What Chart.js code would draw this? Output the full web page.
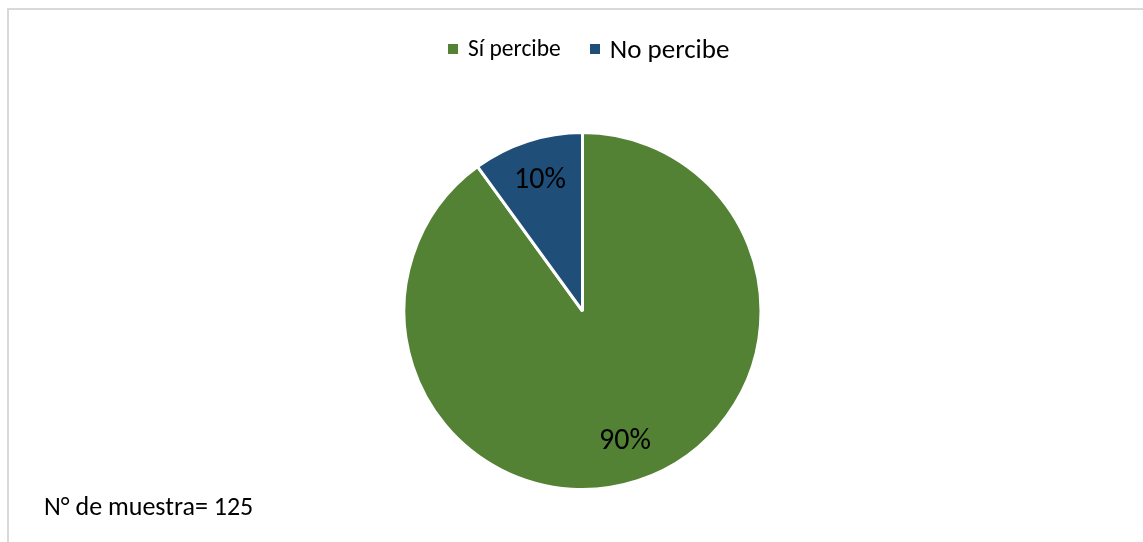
<!DOCTYPE html>
<html>
<head>
<meta charset="utf-8">
<script src="https://cdn.jsdelivr.net/npm/chart.js@4.4.1/dist/chart.umd.min.js"></script>
<style>
  html, body { margin: 0; padding: 0; background: #fff; }
  body { width: 1143px; height: 542px; position: relative; overflow: hidden; font-family: Carlito, Lato, sans-serif; color: #000; }
  #frame { position: absolute; left: 7px; top: 8px; right: -10px; bottom: -10px; border-left: 2px solid #d9d9d9; border-top: 2px solid #d9d9d9; }
  #wrap { position: absolute; left: 0; top: 0; width: 1143px; height: 542px; }
  #legend { position: absolute; top: 35px; left: 448px; display: flex; align-items: center; white-space: nowrap; line-height: 1; }
  .item { display: flex; align-items: center; margin-right: 29px; }
  .box { width: 10px; height: 10px; margin-right: 10px; }
  #note { position: absolute; left: 44px; top: 493px; font-size: 26px; line-height: 1; }
</style>
</head>
<body>
<div id="frame"></div>
<div id="wrap"><canvas id="pieChart" width="1143" height="542"></canvas></div>
<div id="legend"></div>
<div id="note">N° de muestra= 125</div>
<script>
// Percepción: share of respondents
const labels = ['Sí percibe', 'No percibe'];
const values = [90, 10];
const colors = ['#548235', '#1F4E79'];
const legendSizes = [23.5, 27];

// Legend (the two entries are set at different type sizes)
const legendBox = document.getElementById('legend');
labels.forEach((name, i) => {
    const item = document.createElement('div');
    item.className = 'item';
    const box = document.createElement('span');
    box.className = 'box';
    box.style.background = colors[i];
    const txt = document.createElement('span');
    txt.textContent = name;
    txt.style.fontSize = legendSizes[i] + 'px';
    item.appendChild(box);
    item.appendChild(txt);
    legendBox.appendChild(item);
});

// Percent labels placed along each slice's mid angle
const sliceLabels = {
    id: 'sliceLabels',
    afterDatasetsDraw(chart) {
        const ctx = chart.ctx;
        const meta = chart.getDatasetMeta(0);
        ctx.save();
        ctx.font = '30px Carlito, Lato, sans-serif';
        ctx.fillStyle = '#000';
        ctx.textAlign = 'center';
        ctx.textBaseline = 'middle';
        meta.data.forEach((arc, i) => {
            const mid = (arc.startAngle + arc.endAngle) / 2;
            const r = arc.outerRadius * 0.77;
            const x = arc.x + Math.cos(mid) * r;
            const y = arc.y + Math.sin(mid) * r;
            ctx.fillText(values[i] + '%', x, y);
        });
        ctx.restore();
    }
};

new Chart(document.getElementById('pieChart'), {
    type: 'pie',
    data: {
        labels: labels,
        datasets: [{
            data: values,
            backgroundColor: colors,
            borderColor: '#fff',
            borderWidth: 3
        }]
    },
    options: {
        responsive: false,
        animation: false,
        layout: { padding: { left: 402, right: 380, top: 131, bottom: 51 } },
        plugins: { legend: { display: false }, tooltip: { enabled: false } }
    },
    plugins: [sliceLabels]
});
</script>
</body>
</html>
